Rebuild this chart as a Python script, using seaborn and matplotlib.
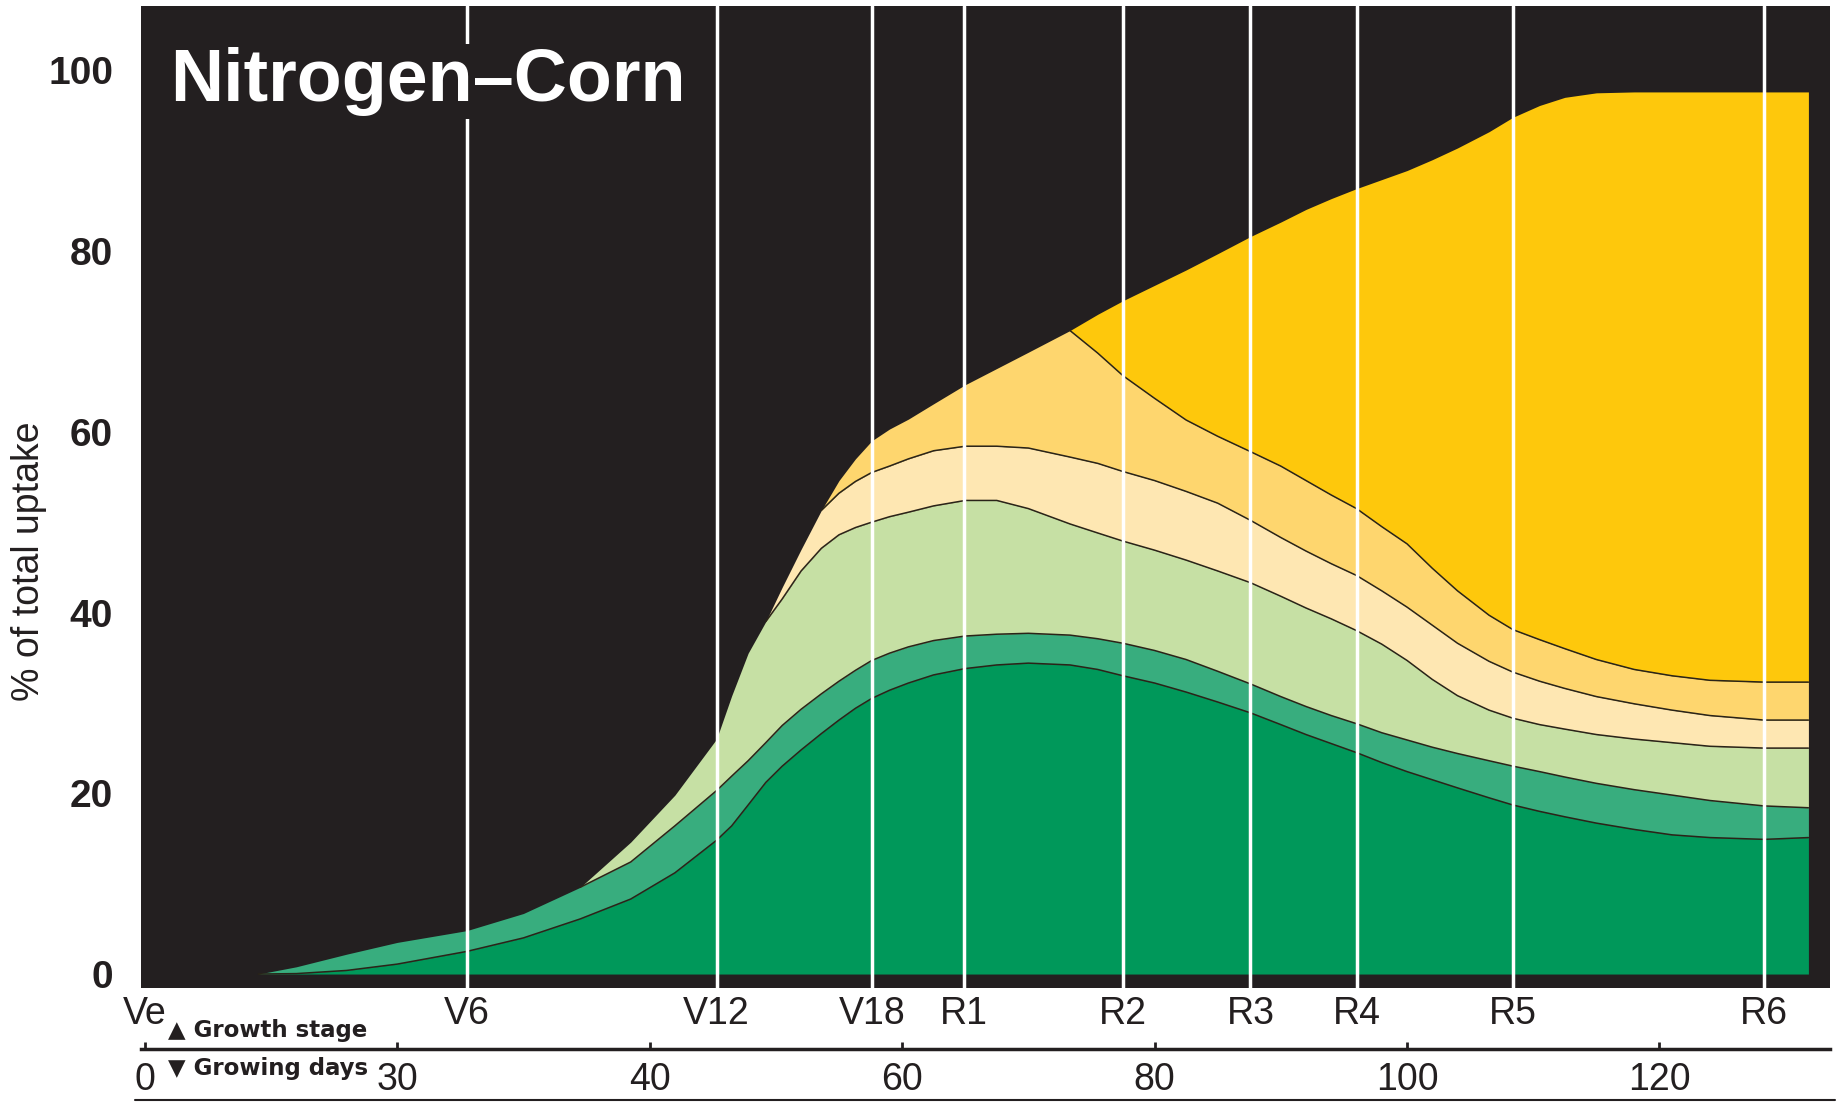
import matplotlib
matplotlib.use("Agg")
import matplotlib.pyplot as plt
import seaborn as sns
from matplotlib.lines import Line2D

days = [9, 12, 16, 20, 25.5, 30, 34.5, 38.5, 42, 45.3,
        46.5, 47.8, 49.2, 50.5, 52, 53.6, 55, 56.3, 57.6, 59,
        60.5, 62.5, 65, 67.5, 70, 73.3, 75.5, 77.5, 80, 82.5,
        85, 87.6, 90, 92, 94, 96, 98, 100, 102, 104,
        106.5, 108.4, 110.5, 112.5, 115, 118, 121, 124, 128.3, 131.8]

# cumulative % of total N uptake: top edge of each layer, bottom layer first
top_dark_green = [0, 0.05, 0.4, 1.1, 2.5, 4.0, 6.1, 8.3, 11.2, 14.8,
                  16.4, 18.7, 21.2, 23.0, 24.8, 26.6, 28.1, 29.4, 30.5, 31.4,
                  32.2, 33.1, 33.8, 34.2, 34.4, 34.2, 33.7, 33.0, 32.2, 31.2,
                  30.1, 28.9, 27.6, 26.5, 25.5, 24.5, 23.4, 22.4, 21.5, 20.6,
                  19.5, 18.7, 18.0, 17.4, 16.7, 16.0, 15.4, 15.1, 14.9, 15.1]
top_mid_green = [0, 0.8, 2.2, 3.5, 4.8, 6.7, 9.6, 12.4, 16.4, 20.3,
                 21.9, 23.6, 25.6, 27.5, 29.3, 31.0, 32.4, 33.6, 34.7, 35.5,
                 36.2, 36.9, 37.4, 37.6, 37.7, 37.5, 37.1, 36.6, 35.8, 34.8,
                 33.5, 32.1, 30.7, 29.6, 28.6, 27.7, 26.7, 25.9, 25.1, 24.4,
                 23.6, 23.0, 22.4, 21.8, 21.1, 20.4, 19.8, 19.2, 18.6, 18.4]
top_light_green = [0, 0.8, 2.2, 3.5, 4.8, 6.7, 9.6, 14.6, 19.8, 26.0,
                   30.8, 35.5, 39.0, 41.5, 44.6, 47.1, 48.6, 49.4, 50.0, 50.6,
                   51.1, 51.8, 52.4, 52.4, 51.5, 49.8, 48.8, 47.9, 46.9, 45.8,
                   44.6, 43.3, 41.8, 40.5, 39.3, 38.0, 36.5, 34.7, 32.6, 30.8,
                   29.2, 28.3, 27.6, 27.1, 26.5, 26.0, 25.6, 25.2, 25.0, 25.0]
top_cream = [0, 0.8, 2.2, 3.5, 4.8, 6.7, 9.6, 14.6, 19.8, 26.0,
             30.8, 35.5, 39.0, 42.8, 47.0, 51.3, 53.2, 54.5, 55.5, 56.2,
             57.0, 57.9, 58.4, 58.4, 58.2, 57.2, 56.5, 55.6, 54.6, 53.4,
             52.1, 50.2, 48.3, 46.8, 45.4, 44.1, 42.4, 40.6, 38.6, 36.6,
             34.6, 33.4, 32.4, 31.6, 30.7, 29.9, 29.2, 28.6, 28.1, 28.1]
top_orange = [0, 0.8, 2.2, 3.5, 4.8, 6.7, 9.6, 14.6, 19.8, 26.0,
              30.8, 35.5, 39.0, 42.8, 47.0, 51.3, 54.6, 57.0, 59.0, 60.3,
              61.4, 63.1, 65.2, 67.0, 68.8, 71.2, 68.7, 66.2, 63.7, 61.3,
              59.5, 57.8, 56.2, 54.6, 53.0, 51.5, 49.5, 47.6, 44.9, 42.4,
              39.7, 38.1, 37.0, 36.0, 34.8, 33.7, 33.0, 32.5, 32.3, 32.3]
top_gold = [0, 0.8, 2.2, 3.5, 4.8, 6.7, 9.6, 14.6, 19.8, 26.0,
            30.8, 35.5, 39.0, 42.8, 47.0, 51.3, 54.6, 57.0, 59.0, 60.3,
            61.4, 63.1, 65.2, 67.0, 68.8, 71.2, 73.0, 74.5, 76.2, 77.9,
            79.7, 81.6, 83.2, 84.6, 85.8, 86.9, 87.9, 88.9, 90.1, 91.4,
            93.2, 94.8, 96.1, 97.0, 97.5, 97.6, 97.6, 97.6, 97.6, 97.6]

stage_days = [0, 25.5, 45.3, 57.6, 64.9, 77.5, 87.6, 96.0, 108.4, 128.3]
stage_labels = ["Ve", "V6", "V12", "V18", "R1", "R2", "R3", "R4", "R5", "R6"]

day_ticks = [0, 20, 40, 60, 80, 100, 120]
day_labels = ["0", "30", "40", "60", "80", "100", "120"]

y_ticks = [0, 20, 40, 60, 80, 100]

BLACK = "#231f20"
layer_colors = ["#00985a", "#38ad7e", "#c6e0a4", "#fee7b2", "#fed66e", "#fec80c"]
edge_color = "#2a2418"

sns.set_theme(style="white")
plt.rcParams["font.family"] = ["Liberation Sans", "DejaVu Sans"]

fig = plt.figure(figsize=(18.45, 11.02), dpi=100)
ax = fig.add_axes([0.0764, 0.1034, 0.9154, 0.8911])
ax.set_facecolor(BLACK)

tops = [top_dark_green, top_mid_green, top_light_green, top_cream, top_orange, top_gold]
base = [0] * len(days)
for top, col in zip(tops, layer_colors):
    ax.fill_between(days, base, top, color=col, lw=0, zorder=1)
    base = top

# thin dark lines between layers, only where the layer above exists
for lower, upper in zip(tops[:-1], tops[1:]):
    start = next(i for i in range(len(days)) if upper[i] > lower[i] + 1e-9)
    start = max(start - 1, 0)
    sns.lineplot(x=days[start:], y=lower[start:], ax=ax, color=edge_color, lw=1.1,
                 estimator=None, sort=False, zorder=2)

for d in stage_days[1:]:
    ax.axvline(d, color="white", lw=2.5, zorder=3)

ax.text(0.017, 0.903, "Nitrogen\u2013Corn", transform=ax.transAxes, color="white",
        fontsize=53, fontweight="bold", ha="left", va="baseline", zorder=5,
        bbox=dict(facecolor=BLACK, edgecolor="none", pad=2))

ax.set_xlim(-0.3, 133.5)
ax.set_ylim(-1.55, 107.1)
for s in ax.spines.values():
    s.set_visible(False)

ax.set_yticks(y_ticks)
ax.set_yticklabels([str(v) for v in y_ticks], fontweight="bold", fontsize=28, color=BLACK)
ax.tick_params(axis="y", length=0, pad=20)
ax.set_xticks(stage_days)
ax.set_xticklabels(stage_labels, fontsize=27, color=BLACK)
ax.tick_params(axis="x", length=0, pad=6)
ax.set_xlabel("")
ax.set_ylabel("% of total uptake", fontsize=27, color=BLACK, va="center", ha="center")
ax.yaxis.set_label_coords(-0.0663, 0.435)

sec = ax.secondary_xaxis(-0.0622)
sec.set_xticks(day_ticks, labels=day_labels)
sec.tick_params(direction="in", length=5, width=2, pad=9, labelsize=27, colors=BLACK)
sec.spines["bottom"].set_linewidth(2.5)
sec.spines["bottom"].set_color(BLACK)

fig.text(168 / 1845, 1 - 1030 / 1102, "\u25b2 Growth stage", family="DejaVu Sans",
         fontweight="bold", fontsize=16.5, color=BLACK, ha="left", va="center")
fig.text(168 / 1845, 1 - 1069 / 1102, "\u25bc Growing days", family="DejaVu Sans",
         fontweight="bold", fontsize=16.5, color=BLACK, ha="left", va="center")
fig.add_artist(Line2D([135 / 1845, 1835 / 1845], [1 - 1100 / 1102] * 2,
                      transform=fig.transFigure, color=BLACK, lw=1.5))

fig.savefig("out.png", dpi=100, facecolor="white")
